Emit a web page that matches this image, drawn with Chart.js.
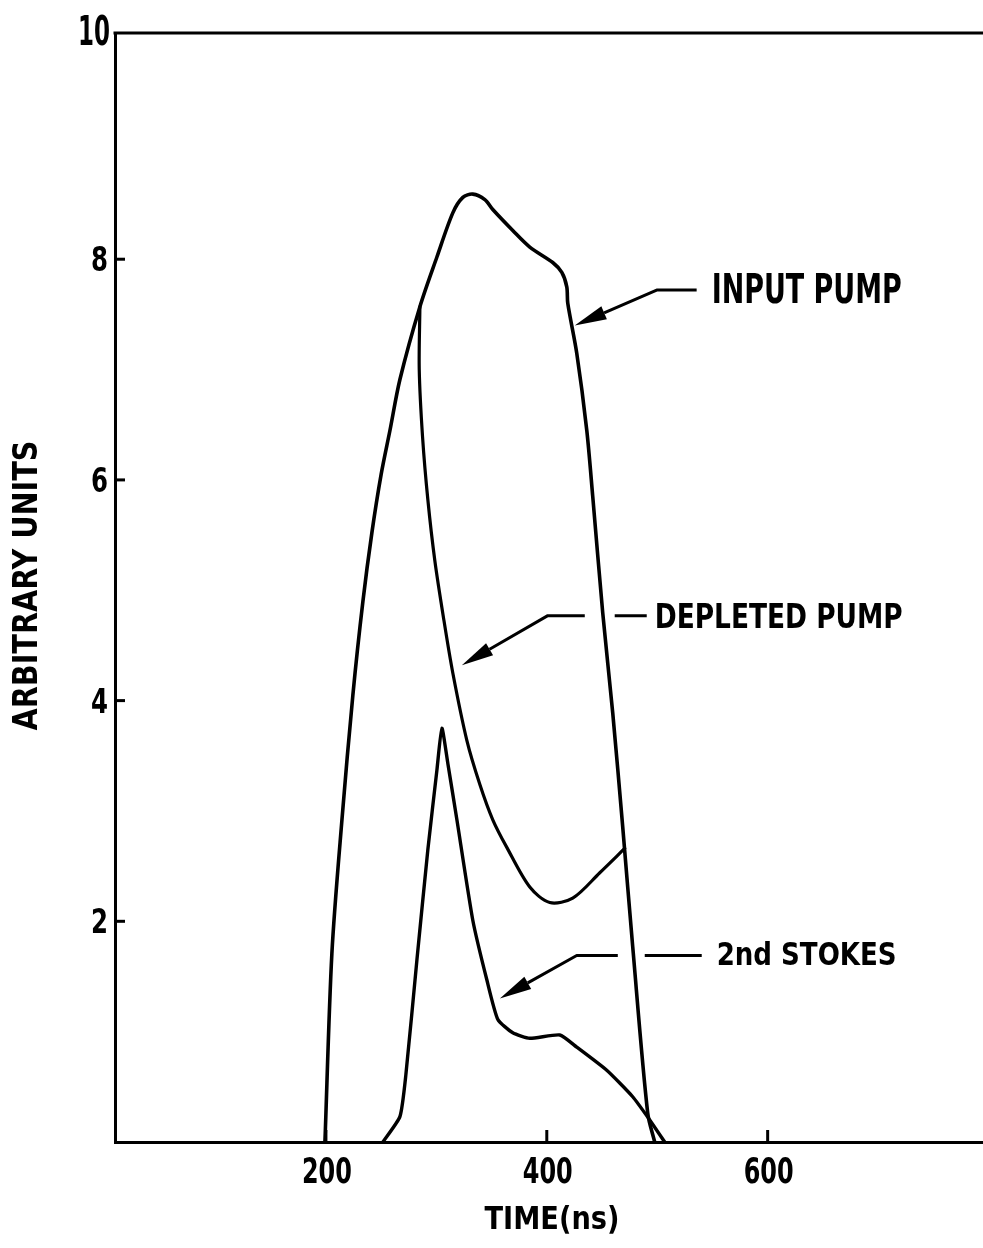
<!DOCTYPE html>
<html>
<head>
<meta charset="utf-8">
<script src="https://cdn.jsdelivr.net/npm/chart.js@4.4.1/dist/chart.umd.min.js"></script>
<style>
html,body{margin:0;padding:0;background:#fff;}
#wrap{width:983px;height:1248px;position:relative;}
</style>
</head>
<body>
<div id="wrap"><canvas id="c"></canvas></div>
<script>
// ---------- data ----------
const xTickValues = [200, 400, 600];
const yTickValues = [2, 4, 6, 8, 10];
const xTickLabels = ['200', '400', '600'];
const yTickLabels = ['2', '4', '6', '8', '10'];
const xAxisTitle = 'TIME(ns)';
const yAxisTitle = 'ARBITRARY UNITS';

const inputPumpTime  = [199.1, 205.4, 214.5, 224.4, 233.5, 241.6, 250.0, 258.0, 267.0, 285.1, 300.5, 314.9, 324.0, 333.0, 343.9, 351.1, 369.2, 384.6, 405.4, 413.6, 418.1, 419.0, 427.1, 436.2, 441.6, 450.7, 459.7, 468.8, 477.8, 491.4, 497.7];
const inputPumpValue = [0.00, 1.71, 2.92, 4.05, 4.90, 5.52, 6.05, 6.45, 6.91, 7.57, 8.02, 8.42, 8.56, 8.59, 8.54, 8.45, 8.26, 8.11, 7.97, 7.88, 7.75, 7.60, 7.15, 6.45, 5.85, 4.79, 3.89, 2.85, 1.77, 0.26, 0.00];

const depletedPumpTime  = [285.1, 284.5, 287.5, 292.3, 298.6, 306.8, 314.9, 327.6, 339.4, 351.1, 363.8, 384.6, 402.7, 423.5, 448.0, 470.6];
const depletedPumpValue = [7.57, 7.00, 6.39, 5.82, 5.27, 4.73, 4.25, 3.64, 3.24, 2.92, 2.67, 2.31, 2.17, 2.21, 2.44, 2.66];

const stokesTime  = [251.6, 267.0, 272.4, 282.4, 292.3, 300.5, 305.0, 310.4, 318.6, 333.0, 345.7, 355.7, 369.2, 384.6, 411.8, 427.1, 454.3, 477.8, 493.2, 506.8];
const stokesValue = [0.00, 0.23, 0.61, 1.65, 2.65, 3.37, 3.75, 3.43, 2.92, 2.01, 1.47, 1.11, 0.99, 0.94, 0.97, 0.86, 0.65, 0.41, 0.20, 0.00];

const seriesLabels = ['INPUT PUMP', 'DEPLETED PUMP', '2nd STOKES'];

// annotation leaders in data units: arrow tip, elbow, end of leader, detached dash, label anchor (left, baseline)
const inputPumpLeader    = {tip:[425.3, 7.40], elbow:[499.5, 7.72], end:[535.7, 7.72], dash:null,          label:[549.3, 7.60]};
const depletedPumpLeader = {tip:[323.1, 4.32], elbow:[400.9, 4.77], end:[434.4, 4.77], dash:[461.5, 490.5], label:[497.7, 4.66]};
const stokesLeader       = {tip:[357.5, 1.30], elbow:[427.1, 1.69], end:[464.3, 1.69], dash:[488.7, 540.3], label:[553.8, 1.60]};

// ---------- styling ----------
const FONT = "'DejaVu Sans Condensed','Liberation Sans Narrow','Liberation Sans',sans-serif";
function pts(t, v){ return t.map((x,i)=>({x:x, y:v[i]})); }

const labelStyle = [
  {size:41, width:190},
  {size:34, width:248},
  {size:32, width:180}
];
const leaders = [inputPumpLeader, depletedPumpLeader, stokesLeader];

function drawFitted(ctx, text, x, y, size, width, align){
  ctx.save();
  ctx.font = 'bold ' + size + 'px ' + FONT;
  ctx.textBaseline = 'alphabetic';
  ctx.textAlign = 'left';
  const w = ctx.measureText(text).width;
  const k = width / w;
  let x0 = x;
  if (align === 'center') x0 = x - width / 2;
  if (align === 'right') x0 = x - width;
  ctx.translate(x0, y);
  ctx.scale(k, 1);
  ctx.fillStyle = '#000';
  ctx.fillText(text, 0, 0);
  ctx.restore();
}

const decor = {
  id: 'decor',
  afterDatasetsDraw(chart){
    const ctx = chart.ctx, xs = chart.scales.x, ys = chart.scales.y, a = chart.chartArea;
    ctx.save();
    ctx.strokeStyle = '#000';
    ctx.fillStyle = '#000';
    ctx.lineCap = 'butt';
    // top frame line
    ctx.lineWidth = 3;
    ctx.beginPath(); ctx.moveTo(a.left - 1.5, a.top); ctx.lineTo(a.right, a.top); ctx.stroke();
    // inward tick marks + labels from the library's scales
    xs.ticks.forEach((t, i) => {
      const px = xs.getPixelForValue(t.value);
      ctx.beginPath(); ctx.moveTo(px, a.bottom); ctx.lineTo(px, a.bottom - 12); ctx.stroke();
      drawFitted(ctx, xTickLabels[i], px + 1, a.bottom + 41, 36, 50, 'center');
    });
    ys.ticks.forEach((t, i) => {
      const py = ys.getPixelForValue(t.value);
      if (t.value < 10) {
        ctx.beginPath(); ctx.moveTo(a.left, py); ctx.lineTo(a.left + 10, py); ctx.stroke();
        drawFitted(ctx, yTickLabels[i], a.left - 7, py + 12, 34, 17, 'right');
      } else {
        drawFitted(ctx, yTickLabels[i], a.left - 5, a.top + 12, 41, 32, 'right');
      }
    });
    // axis titles
    drawFitted(ctx, xAxisTitle, (a.left + a.right) / 2 + 3, 1229, 32, 135, 'center');
    ctx.save();
    ctx.translate(37, (a.top + a.bottom) / 2 - 2);
    ctx.rotate(-Math.PI / 2);
    drawFitted(ctx, yAxisTitle, 0, 0, 33, 290, 'center');
    ctx.restore();
    // annotation leaders with arrowheads
    ctx.lineWidth = 3;
    ctx.lineJoin = 'round';
    leaders.forEach((L, i) => {
      const tx = xs.getPixelForValue(L.tip[0]), ty = ys.getPixelForValue(L.tip[1]);
      const ex = xs.getPixelForValue(L.elbow[0]), ey = ys.getPixelForValue(L.elbow[1]);
      const nx = xs.getPixelForValue(L.end[0]), ny = ys.getPixelForValue(L.end[1]);
      const ang = Math.atan2(ey - ty, ex - tx);
      const headLen = 32, headHalf = 7;
      const bx = tx + Math.cos(ang) * headLen, by = ty + Math.sin(ang) * headLen;
      ctx.beginPath(); ctx.moveTo(bx, by); ctx.lineTo(ex, ey); ctx.lineTo(nx, ny); ctx.stroke();
      ctx.beginPath();
      ctx.moveTo(tx, ty);
      ctx.lineTo(bx - Math.sin(ang) * headHalf, by + Math.cos(ang) * headHalf);
      ctx.lineTo(bx + Math.sin(ang) * headHalf, by - Math.cos(ang) * headHalf);
      ctx.closePath(); ctx.fill();
      if (L.dash) {
        const d0 = xs.getPixelForValue(L.dash[0]), d1 = xs.getPixelForValue(L.dash[1]);
        ctx.beginPath(); ctx.moveTo(d0, ny); ctx.lineTo(d1, ny); ctx.stroke();
      }
      drawFitted(ctx, seriesLabels[i], xs.getPixelForValue(L.label[0]), ys.getPixelForValue(L.label[1]), labelStyle[i].size, labelStyle[i].width, 'left');
    });
    ctx.restore();
  }
};

const lineDs = (label, data, tension, width) => ({
  label, data, showLine: true, borderColor: '#000', backgroundColor: '#000',
  borderWidth: width, pointRadius: 0, pointHoverRadius: 0, tension: tension, fill: false,
  borderJoinStyle: 'round', borderCapStyle: 'round'
});

new Chart(document.getElementById('c'), {
  type: 'scatter',
  data: {
    datasets: [
      lineDs(seriesLabels[0], pts(inputPumpTime, inputPumpValue), 0.3, 3.6),
      lineDs(seriesLabels[1], pts(depletedPumpTime, depletedPumpValue), 0.3, 3.2),
      lineDs(seriesLabels[2], pts(stokesTime, stokesValue), 0.18, 3.4)
    ]
  },
  options: {
    responsive: true,
    maintainAspectRatio: false,
    animation: false,
    layout: {padding: {top: 33, right: 0, bottom: 0, left: 0}},
    plugins: {legend: {display: false}, tooltip: {enabled: false}},
    scales: {
      x: {
        type: 'linear', position: 'bottom', min: 9, max: 795,
        grid: {display: false, drawTicks: false},
        border: {display: true, color: '#000', width: 3},
        afterBuildTicks: s => { s.ticks = xTickValues.map(v => ({value: v})); },
        afterFit: s => { s.height = 106; },
        ticks: {display: false},
        title: {display: false, text: xAxisTitle}
      },
      y: {
        type: 'linear', position: 'left', min: 0, max: 10.05,
        grid: {display: false, drawTicks: false},
        border: {display: true, color: '#000', width: 3},
        afterBuildTicks: s => { s.ticks = yTickValues.map(v => ({value: v})); },
        afterFit: s => { s.width = 115; },
        ticks: {display: false},
        title: {display: false, text: yAxisTitle}
      }
    }
  },
  plugins: [decor]
});
</script>
</body>
</html>
